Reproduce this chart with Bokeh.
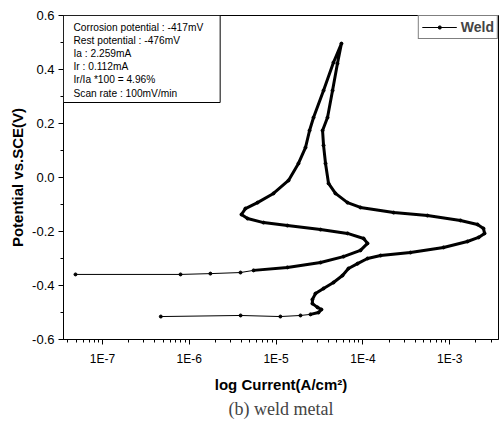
from bokeh.plotting import figure
from bokeh.embed import file_html
from bokeh.resources import INLINE
from bokeh.models import (FixedTicker, PrintfTickFormatter, CustomJSTickFormatter,
                          Label, Title, Range1d, LogTicker, ColumnDataSource,
                          Legend, LegendItem)

# ---- data ----
# forward scan (from rest potential up to the vertex)
fwd_current = [4.7e-7, 3.9e-6, 1.12e-5, 1.91e-5, 2.49e-5, 3.08e-5, 3.33e-5, 3.00e-5,
               2.62e-5, 2.62e-5, 2.84e-5, 3.52e-5, 4.58e-5, 5.82e-5, 6.82e-5, 8.67e-5,
               1.13e-4, 1.60e-4, 3.53e-4, 8.49e-4, 1.60e-3, 2.15e-3, 2.52e-3, 2.45e-3,
               2.09e-3, 1.33e-3, 5.54e-4, 2.26e-4, 9.37e-5, 6.65e-5, 4.83e-5, 4.02e-5,
               3.71e-5, 3.52e-5, 3.43e-5, 3.91e-5, 4.47e-5, 5.09e-5, 5.66e-5]
fwd_potential = [-0.515, -0.511, -0.515, -0.511, -0.507, -0.500, -0.489, -0.481,
                 -0.467, -0.452, -0.430, -0.411, -0.389, -0.363, -0.337, -0.319,
                 -0.300, -0.289, -0.278, -0.259, -0.237, -0.222, -0.207, -0.189,
                 -0.174, -0.159, -0.141, -0.130, -0.111, -0.093, -0.059, -0.022,
                 0.052, 0.119, 0.174, 0.222, 0.322, 0.422, 0.496]
# reverse scan (from the vertex back down)
rev_current = [4.58e-5, 3.52e-5, 2.70e-5, 2.43e-5, 2.18e-5, 1.81e-5, 1.39e-5, 9.33e-6,
               6.11e-6, 4.43e-6, 3.99e-6, 4.69e-6, 7.16e-6, 1.35e-5, 3.25e-5, 6.65e-5,
               1.02e-4, 1.13e-4, 9.37e-5, 5.97e-5, 3.25e-5, 1.35e-5, 5.50e-6, 3.89e-6,
               1.75e-6, 7.93e-7, 4.89e-8]
rev_potential = [0.426, 0.322, 0.222, 0.174, 0.111, 0.052, -0.011, -0.059,
                 -0.093, -0.115, -0.137, -0.152, -0.167, -0.178, -0.193, -0.207,
                 -0.226, -0.244, -0.270, -0.293, -0.315, -0.333, -0.344, -0.352,
                 -0.356, -0.359, -0.359]

y_ticks = [-0.6, -0.4, -0.2, 0.0, 0.2, 0.4, 0.6]
y_minor = [-0.5, -0.3, -0.1, 0.1, 0.3, 0.5]
info_lines = ["Corrosion potential : -417mV", "Rest potential : -476mV",
              "Ia : 2.259mA", "Ir : 0.112mA", "Ir/Ia *100 = 4.96%",
              "Scan rate : 100mV/min"]
series_name = "Weld"

current = fwd_current + rev_current
potential = fwd_potential + rev_potential

x_lo, x_hi = 10 ** -7.449, 10 ** -2.438
y_lo, y_hi = -0.6, 0.6

p = figure(x_axis_type="log", output_backend="svg", toolbar_location=None,
           frame_width=435, frame_height=324,
           x_range=Range1d(x_lo, x_hi), y_range=Range1d(y_lo, y_hi),
           min_border_left=63, min_border_right=4, min_border_top=15, min_border_bottom=10)
p.background_fill_color = "white"
p.border_fill_color = "white"
p.outline_line_color = "black"
p.outline_line_width = 1
p.grid.visible = False

FONT = "Liberation Sans"

src = ColumnDataSource(dict(x=current, y=potential))
thin = p.line("x", "y", source=src, line_color="black", line_width=1)
dots = p.scatter("x", "y", source=src, size=3, color="black")
# dense (thick) part of the recorded curve
t0, t1 = 4, len(fwd_current) + 23
thick_src = ColumnDataSource(dict(x=current[t0:t1], y=potential[t0:t1]))
p.line("x", "y", source=thick_src, line_color="black", line_width=3, line_join="round")

# axes
xa = p.xaxis[0]
xa.ticker = LogTicker(num_minor_ticks=10)
xa.formatter = CustomJSTickFormatter(code="return '1E' + Math.round(Math.log10(tick));")
ya = p.yaxis[0]
ya.ticker = FixedTicker(ticks=y_ticks, minor_ticks=y_minor)
ya.formatter = PrintfTickFormatter(format="%.1f")
for ax in (xa, ya):
    ax.axis_line_color = "black"
    ax.major_tick_line_color = "black"
    ax.minor_tick_line_color = "black"
    ax.major_tick_out = 5
    ax.major_tick_in = 0
    ax.minor_tick_out = 3
    ax.minor_tick_in = 0
    ax.major_label_text_font = FONT
    ax.major_label_text_color = "black"
    ax.axis_label_text_font = FONT
    ax.axis_label_text_font_style = "bold"
    ax.axis_label_text_font_size = "15px"
    ax.axis_label_text_color = "black"
xa.major_label_text_font_size = "12px"
ya.major_label_text_font_size = "13px"
xa.axis_label = "log Current(A/cm\u00b2)"
ya.axis_label = "Potential vs.SCE(V)"
xa.major_label_standoff = 7
xa.axis_label_standoff = 7
ya.major_label_standoff = 4
ya.axis_label_standoff = 3

# info box
info = Label(x=x_lo, y=y_hi, text="\n".join(info_lines), text_baseline="top",
             text_align="left", x_offset=0, y_offset=0,
             text_font=FONT, text_font_size="10.2px", text_color="black",
             text_line_height=1.2,
             padding=dict(left=10, right=17, top=6, bottom=4),
             border_line_color="black", border_line_width=1,
             background_fill_color="white")
p.add_layout(info)

# legend
leg = Legend(items=[LegendItem(label=series_name, renderers=[thin, dots])],
             location="top_right", margin=0, padding=3, border_line_color="black",
             label_text_font=FONT, label_text_font_style="bold",
             label_text_font_size="14px", glyph_width=35, label_standoff=4,
             label_height=14, glyph_height=8, background_fill_alpha=1)
p.add_layout(leg, "center")

cap = Title(text="(b) weld metal", align="center", text_font="Liberation Serif",
            text_font_size="18px", text_font_style="normal", standoff=2)
p.add_layout(cap, "below")

open("out.html", "w").write(file_html(p, INLINE))
